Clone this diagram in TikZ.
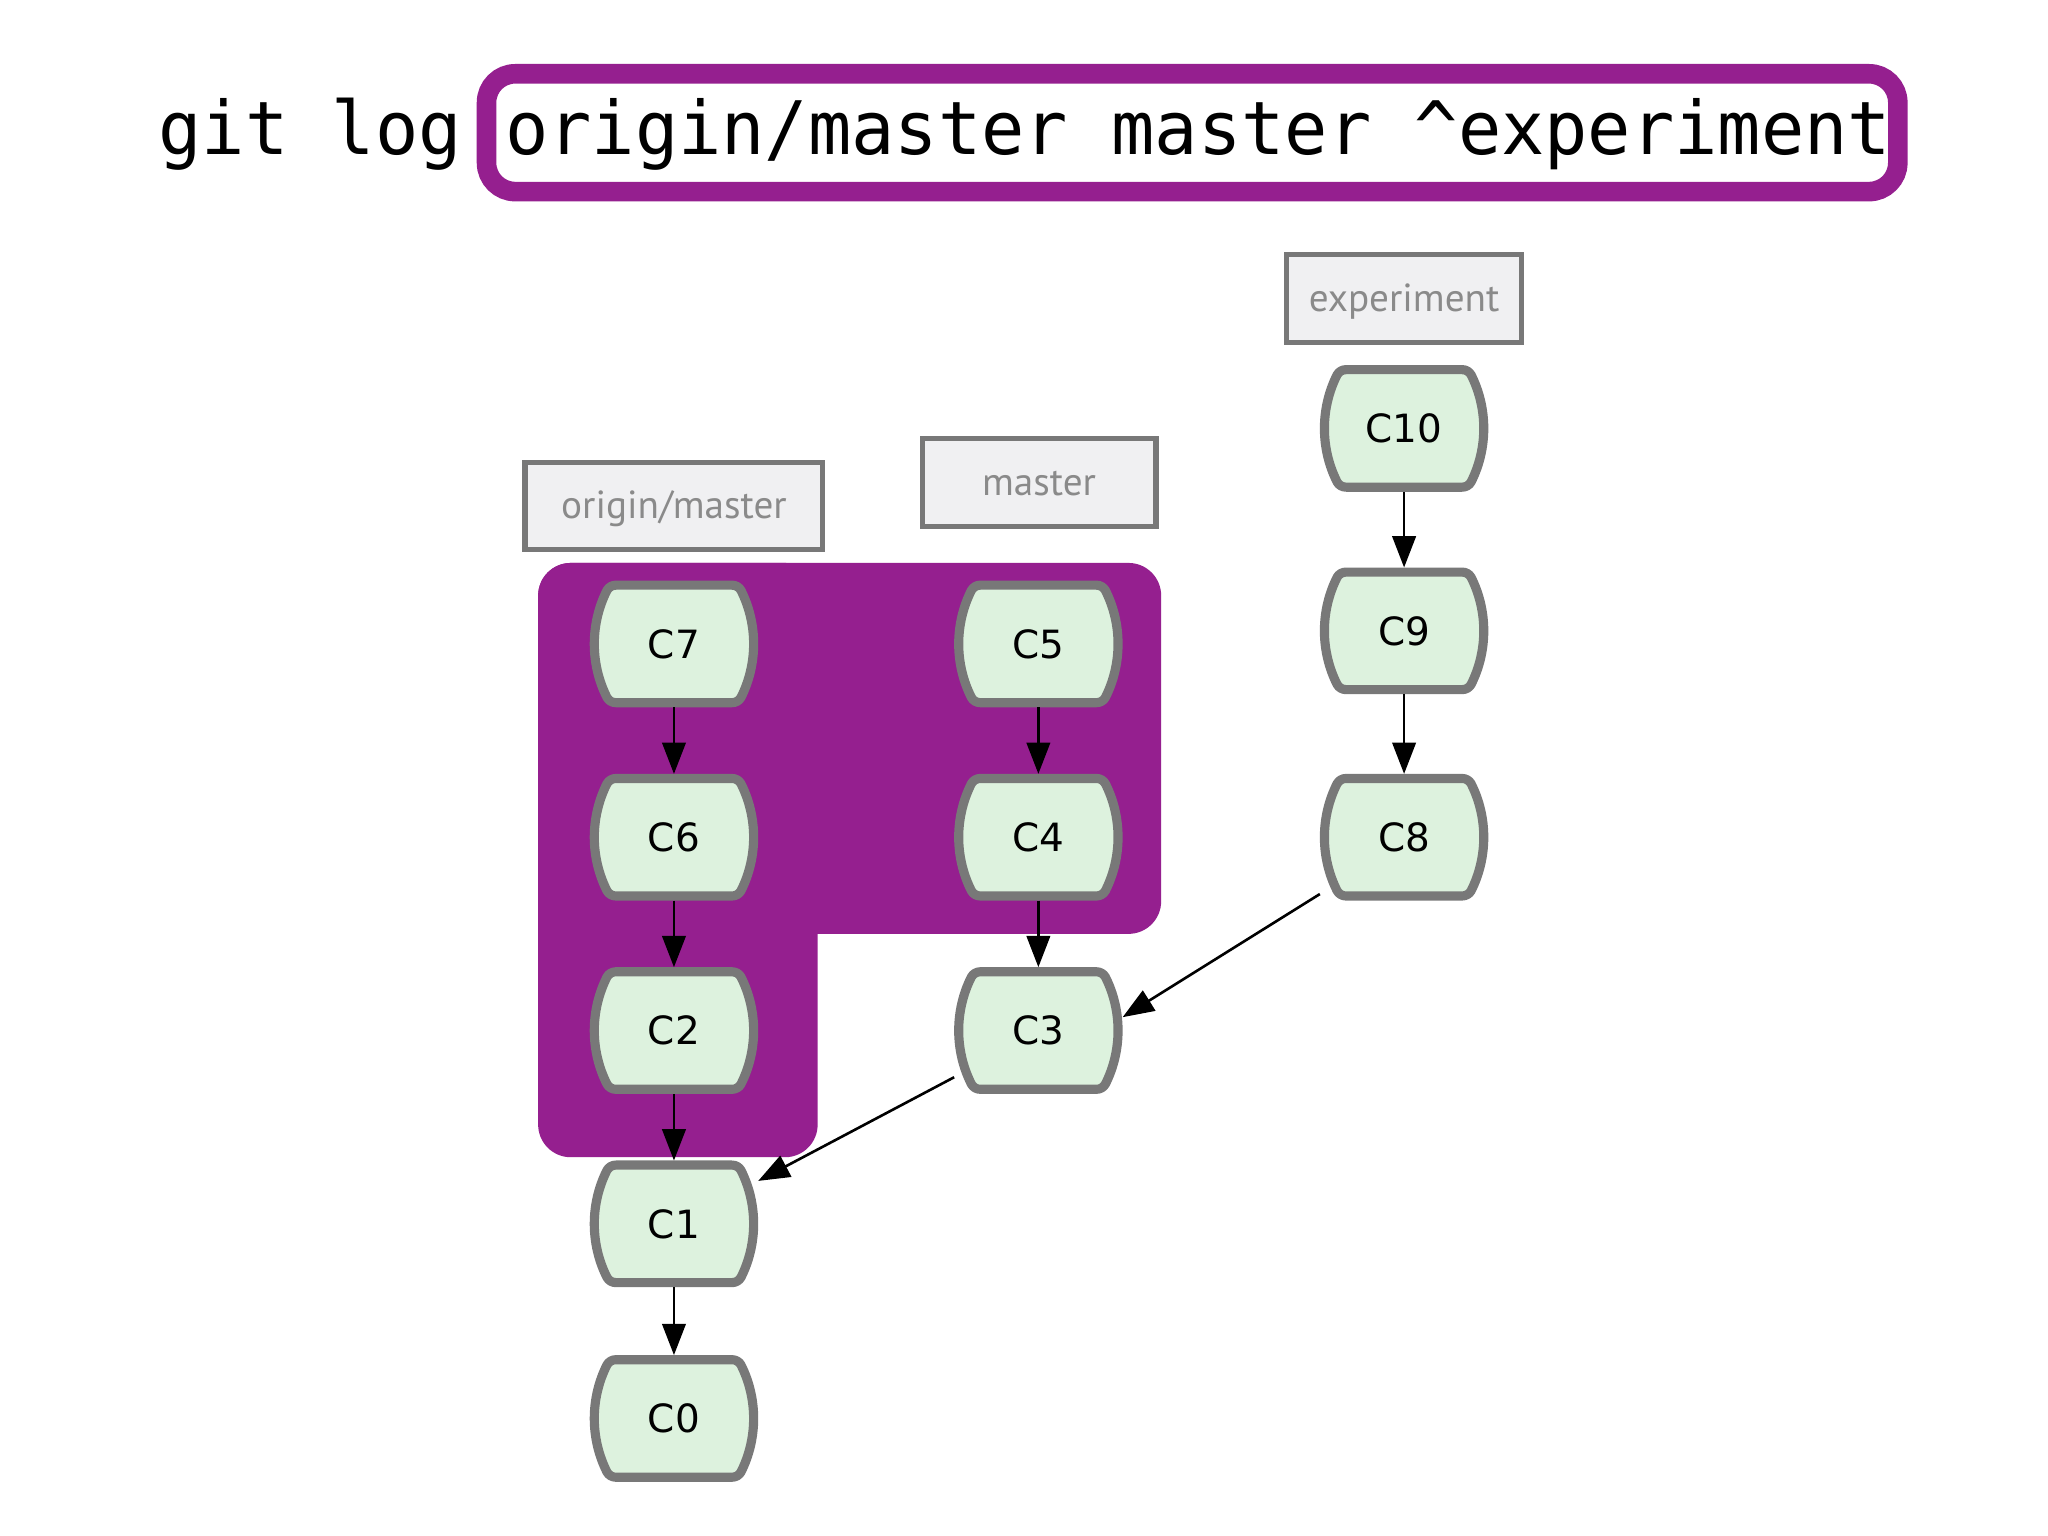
\documentclass[tikz,border=0pt]{standalone}
\usepackage{fontspec}
\usetikzlibrary{arrows.meta}
\newfontfamily\titlefont[FakeStretch=0.975]{DejaVu Sans Mono}
\newfontfamily\commitfont{DejaVu Sans}
\newfontfamily\labelfont{PT Sans}
\definecolor{gpurple}{RGB}{149,31,143}
\definecolor{cfill}{RGB}{221,242,222}
\definecolor{cline}{RGB}{120,120,120}
\definecolor{lfill}{RGB}{240,240,242}
\definecolor{ltext}{RGB}{138,138,138}
\pgfdeclarelayer{bg}\pgfdeclarelayer{mid}\pgfsetlayers{bg,mid,main}
\newcommand\commitoutline[1]{%
  \begin{scope}[shift={(#1.center)}]
    \filldraw[commitline] (-44.4,-45) -- (44.4,-45)
      .. controls (47.3,-45) and (49.9,-43.5) .. (51.3,-41)
      .. controls (57.7,-28.3) and (61,-14.2) .. (61,0)
      .. controls (61,14.2) and (57.7,28.3) .. (51.3,41)
      .. controls (49.9,43.5) and (47.3,45) .. (44.4,45)
      -- (-44.4,45)
      .. controls (-47.3,45) and (-49.9,43.5) .. (-51.3,41)
      .. controls (-57.7,28.3) and (-61,14.2) .. (-61,0)
      .. controls (-61,-14.2) and (-57.7,-28.3) .. (-51.3,-41)
      .. controls (-49.9,-43.5) and (-47.3,-45) .. (-44.4,-45) -- cycle;
  \end{scope}}
\tikzset{
  commit/.style={rectangle, minimum width=64.5pt, minimum height=48.5pt, inner sep=0pt, outer sep=0pt,
    font=\commitfont\fontsize{14.9}{18}\selectfont},
  commitline/.style={fill=cfill, draw=cline, line width=3.5pt, line join=round},
  branch/.style={rectangle, draw=cline, fill=lfill, line width=2pt, minimum height=33.5pt, inner sep=0pt,
    font=\labelfont\fontsize{15}{18}\selectfont, text=ltext, text height=1.19em, text depth=0.22em},
  arr/.style={-{Triangle[length=12pt,width=9pt]}, line width=1pt},
  region/.style={fill=gpurple, rounded corners=12.5pt}
}
\begin{document}
\begin{tikzpicture}[x=0.5pt,y=-0.5pt]
\useasboundingbox (0,0) rectangle (1568,1176);
% title
\node[draw=gpurple, line width=7.5pt, rounded corners=11pt, minimum width=540.25pt, minimum height=45.1pt, inner sep=0pt] (hl) at (912.75,101.6) {};
\node[anchor=base west, inner sep=0pt, font=\titlefont\fontsize{28.25}{30}\selectfont] (title) at (121,118) {git log origin/master master \textasciicircum experiment};
% commits
\node[commit] (C7) at (516,493) {C7};
\node[commit] (C6) at (516,641) {C6};
\node[commit] (C2) at (516,789) {C2};
\node[commit] (C1) at (516,937) {C1};
\node[commit] (C0) at (516,1086) {C0};
\node[commit] (C5) at (795,493) {C5};
\node[commit] (C4) at (795,641) {C4};
\node[commit] (C3) at (795,789) {C3};
\node[commit] (C10) at (1075,328) {C10};
\node[commit] (C9) at (1075,483) {C9};
\node[commit] (C8) at (1075,641) {C8};
% branches
\node[branch, minimum width=114pt] (om) at (516,387.5) {origin/master};
\node[branch, minimum width=89.5pt] (ma) at (795.5,369.5) {master};
\node[branch, minimum width=90pt] (ex) at (1075,228.5) {experiment};
% outlines
\begin{pgfonlayer}{mid}
\foreach \n in {C7,C6,C2,C1,C0,C5,C4,C3,C10,C9,C8} {\commitoutline{\n}}
\end{pgfonlayer}
% purple region
\begin{pgfonlayer}{bg}
\fill[white] (0,0) rectangle (1568,1176);
\fill[region] (412,431) rectangle (889,715);
\fill[region] (412,431) rectangle (626,886);
\end{pgfonlayer}
% edges
\draw[arr] (C7) -- (C6);
\draw[arr] (C6) -- (C2);
\draw[arr] (C2) -- (C1);
\draw[arr] (C1) -- (C0);
\draw[arr] (C5) -- (C4);
\draw[arr] (C4) -- (C3);
\draw[arr] (C10) -- (C9);
\draw[arr] (C9) -- (C8);
\draw[arr] (C3.209) -- (C1.27);
\draw[arr] (C8.214) -- (C3.9);
\end{tikzpicture}
\end{document}
